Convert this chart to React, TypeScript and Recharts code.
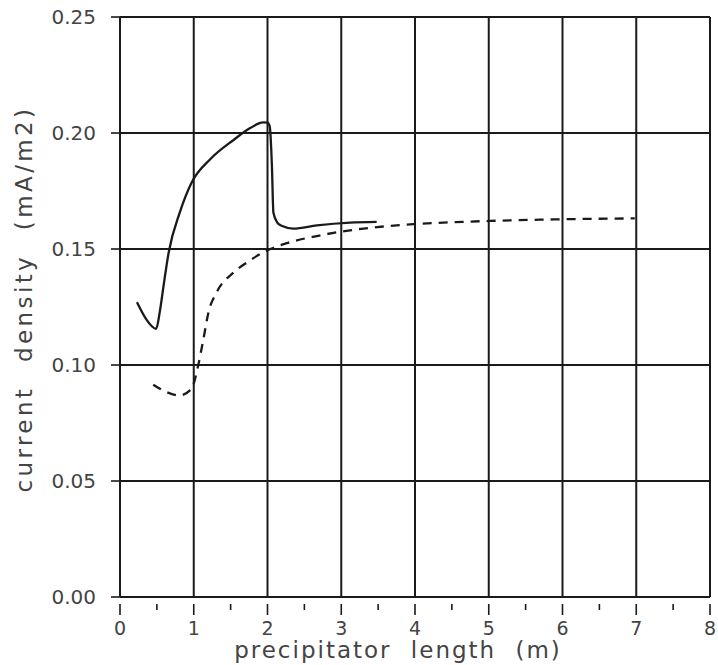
import React from 'react'
import { LineChart, Line, XAxis, YAxis, CartesianGrid, Label } from 'recharts'

// solid curve
const solidX = [0.23, 0.35, 0.49, 0.54, 0.59, 0.66, 0.81, 0.97, 1.22, 1.54, 1.76, 1.94, 2.0, 2.03, 2.06, 2.08, 2.13, 2.19, 2.35, 2.67, 3.12, 3.48]
const solidY = [0.127, 0.12, 0.1156, 0.123, 0.134, 0.1485, 0.1657, 0.1786, 0.1886, 0.197, 0.202, 0.2046, 0.2045, 0.2029, 0.1857, 0.1657, 0.1615, 0.16, 0.1588, 0.1602, 0.1614, 0.1617]

// dashed curve
const dashX = [0.45, 0.62, 0.81, 0.97, 1.06, 1.13, 1.2, 1.31, 1.54, 1.72, 1.94, 2.26, 2.67, 3.07, 3.57, 3.98, 5.02, 5.97, 6.98]
const dashY = [0.0915, 0.0885, 0.0869, 0.0898, 0.0998, 0.111, 0.1227, 0.1313, 0.1399, 0.1442, 0.1485, 0.1525, 0.1556, 0.1578, 0.1597, 0.1607, 0.1621, 0.1628, 0.1632]

const xTicks = [0, 0.5, 1, 1.5, 2, 2.5, 3, 3.5, 4, 4.5, 5, 5.5, 6, 6.5, 7, 7.5, 8]
const xGrid = [0, 1, 2, 3, 4, 5, 6, 7, 8]
const yTicks = [0, 0.05, 0.1, 0.15, 0.2, 0.25]

const solidData = solidX.map((x, i) => ({ x, y: solidY[i] }))
const dashData = dashX.map((x, i) => ({ x, y: dashY[i] }))

const font = '"DejaVu Sans", sans-serif'
const ink = '#1a1a1a'
const textColor = '#444'

function XTick(props: any) {
  const { x, y, payload } = props
  const major = Number.isInteger(payload.value)
  return (
    <g>
      <line x1={x} y1={y - 1} x2={x} y2={y + (major ? 10 : 5)} stroke={ink} strokeWidth={1.6} />
      {major && (
        <text x={x} y={y + 30} textAnchor="middle" fontSize={19} fill={textColor} fontFamily={font}>
          {payload.value}
        </text>
      )}
    </g>
  )
}

export default function App() {
  return (
    <div style={{ position: 'absolute', left: 0, top: 0, background: '#fff' }}>
      <LineChart width={718} height={665} margin={{ top: 17, right: 8, left: 0, bottom: 0 }}>
        <CartesianGrid stroke={ink} strokeWidth={2} verticalValues={xGrid} horizontalValues={yTicks} />
        <XAxis
          dataKey="x"
          type="number"
          domain={[0, 8]}
          ticks={xTicks}
          interval={0}
          height={68}
          axisLine={{ stroke: ink, strokeWidth: 2 }}
          tickLine={false}
          tick={<XTick />}
        >
          <Label
            value="precipitator length (m)"
            position="insideBottom"
            offset={7}
            dx={-17}
            style={{ fontSize: 23, fill: textColor, fontFamily: font, letterSpacing: 2, wordSpacing: 10 }}
          />
        </XAxis>
        <YAxis
          dataKey="y"
          type="number"
          domain={[0, 0.25]}
          ticks={yTicks}
          width={120}
          tickFormatter={(v: number) => v.toFixed(2)}
          tickSize={9}
          tickMargin={15}
          axisLine={{ stroke: ink, strokeWidth: 2 }}
          tickLine={{ stroke: ink, strokeWidth: 1.6 }}
          tick={{ fontSize: 20, fill: textColor, fontFamily: font }}
        >
          <Label
            value="current density (mA/m2)"
            angle={-90}
            position="insideLeft"
            offset={24}
            dy={-8}
            style={{ textAnchor: 'middle', fontSize: 23, fill: textColor, fontFamily: font, letterSpacing: 3.4, wordSpacing: 13 }}
          />
        </YAxis>
        <Line
          data={solidData}
          dataKey="y"
          type="monotone"
          stroke={ink}
          strokeWidth={2.3}
          dot={false}
          isAnimationActive={false}
        />
        <Line
          data={dashData}
          dataKey="y"
          type="monotone"
          stroke={ink}
          strokeWidth={2.3}
          strokeDasharray="9 7"
          dot={false}
          isAnimationActive={false}
        />
      </LineChart>
    </div>
  )
}
